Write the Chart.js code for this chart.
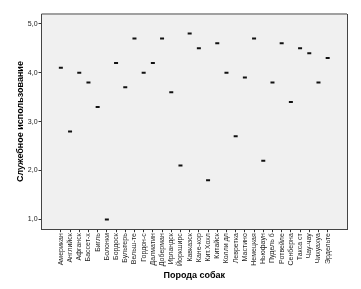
<!DOCTYPE html>
<html>
<head>
<meta charset="utf-8">
<script src="https://cdn.jsdelivr.net/npm/chart.js@4"></script>
<style>
  body { margin: 0; background: #fff; }
</style>
</head>
<body>
<canvas id="dotChart" width="361" height="289"></canvas>
<script>
const breeds = ['Американ', 'Английск', 'Афганск', 'Бассет-х', 'Бигль', 'Болонки', 'Бордоск', 'Бультерь',
  'Вельш-те', 'Гордон-с', 'Далматин', 'Доберман', 'Ирландск', 'Йоркширс', 'Кавказск', 'Кане-кор',
  'Кит.Хохл', 'Китайск', 'Колли дл', 'Левретка', 'Мастино', 'Немецкая', 'Ньюфаун', 'Пудель б',
  'Ротвейле', 'Сенберна', 'Такса ст', 'Чау-чау', 'Чихуахуа', 'Эрдельте'];
const serviceUse = [4.1, 2.8, 4.0, 3.8, 3.3, 1.0, 4.2, 3.7, 4.7, 4.0, 4.2, 4.7, 3.6, 2.1, 4.8,
  4.5, 1.8, 4.6, 4.0, 2.7, 3.9, 4.7, 2.2, 3.8, 4.6, 3.4, 4.5, 4.4, 3.8, 4.3];
const yTicks = [1, 2, 3, 4, 5];

const font = 'Liberation Sans, Arial, sans-serif';

// grey plot background plus top/right frame
const plotFrame = {
  id: 'plotFrame',
  beforeDraw(chart) {
    const a = chart.chartArea, c = chart.ctx;
    c.save();
    c.fillStyle = '#f0f0f0';
    c.fillRect(a.left, a.top, a.right - a.left, a.bottom - a.top);
    c.strokeStyle = '#a0a0a0';
    c.lineWidth = 2;
    c.beginPath();
    c.moveTo(a.left, a.top);
    c.lineTo(a.right, a.top);
    c.stroke();
    c.strokeStyle = '#444';
    c.lineWidth = 1;
    c.beginPath();
    c.moveTo(a.right + 0.5, a.top);
    c.lineTo(a.right + 0.5, a.bottom);
    c.stroke();
    c.restore();
  }
};

const ctx = document.getElementById('dotChart');

new Chart(ctx, {
  type: 'scatter',
  data: {
    datasets: [{
      data: serviceUse.map((v, i) => ({ x: i, y: v })),
      pointStyle: 'line',
      radius: 2,
      hoverRadius: 2,
      borderWidth: 2,
      borderColor: '#111',
      backgroundColor: '#111'
    }]
  },
  options: {
    responsive: false,
    animation: false,
    layout: { padding: { top: 14, right: 14, left: 13, bottom: 8 } },
    plugins: { legend: { display: false }, tooltip: { enabled: false } },
    scales: {
      x: {
        type: 'linear',
        min: -2.1,
        max: breeds.length - 1 + 2.1,
        afterBuildTicks: s => { s.ticks = breeds.map((b, i) => ({ value: i })); },
        ticks: {
          autoSkip: false,
          minRotation: 90,
          maxRotation: 90,
          padding: 1,
          color: '#222',
          font: { family: font, size: 7 },
          callback: v => breeds[v]
        },
        grid: { drawOnChartArea: false, tickLength: 3, color: '#333' },
        border: { color: '#444' },
        title: {
          display: true,
          text: 'Порода собак',
          color: '#000',
          font: { family: font, size: 9, weight: 'bold' },
          padding: { top: 3, bottom: 0 }
        }
      },
      y: {
        min: 0.8,
        max: 5.2,
        afterBuildTicks: s => { s.ticks = yTicks.map(v => ({ value: v })); },
        ticks: {
          padding: 1,
          color: '#222',
          font: { family: font, size: 7 },
          callback: v => v.toFixed(1).replace('.', ',')
        },
        grid: { drawOnChartArea: false, tickLength: 3, color: '#333' },
        border: { color: '#444' },
        title: {
          display: true,
          text: 'Служебное использование',
          color: '#000',
          font: { family: font, size: 9, weight: 'bold' },
          padding: { top: 2, bottom: 1 }
        }
      }
    }
  },
  plugins: [plotFrame]
});
</script>
</body>
</html>
